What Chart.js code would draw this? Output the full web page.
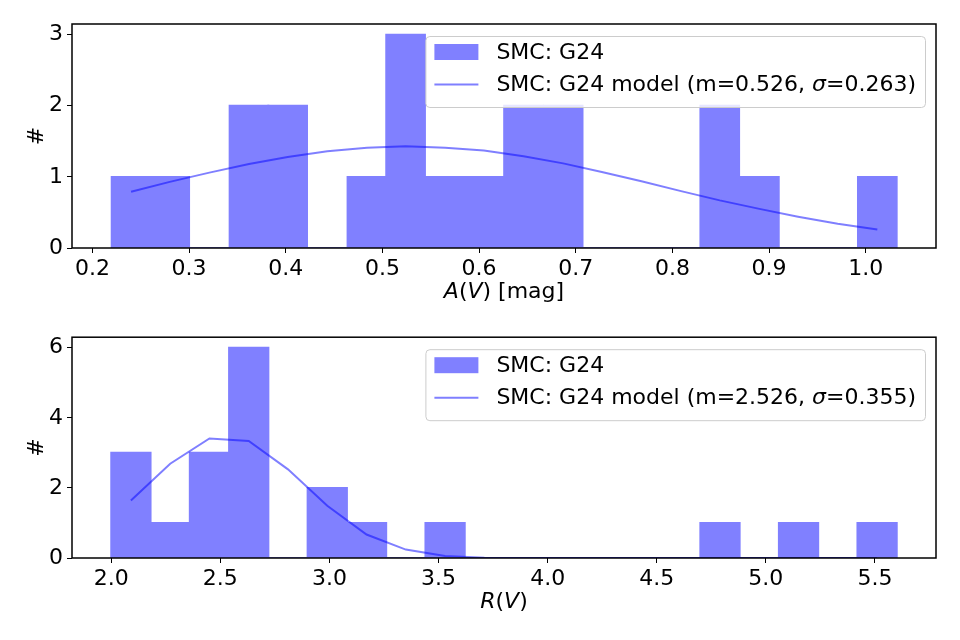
<!DOCTYPE html>
<html>
<head>
<meta charset="utf-8">
<script src="https://cdn.jsdelivr.net/npm/chart.js@4"></script>
<style>
  body { margin: 0; background: #fff; }
  .box { position: absolute; left: 0; width: 960px; height: 320px; }
</style>
</head>
<body>
<div class="box" style="top:0"><canvas id="avChart" width="960" height="320"></canvas></div>
<div class="box" style="top:320px"><canvas id="rvChart" width="960" height="320"></canvas></div>
<script>
// A(V) histogram (bin centres, counts) and model curve
var avCenters = [0.240, 0.280, 0.321, 0.362, 0.402, 0.443, 0.484, 0.524, 0.565, 0.605,
                 0.646, 0.687, 0.727, 0.768, 0.809, 0.849, 0.890, 0.930, 0.971, 1.012];
var avCounts = [1, 1, 0, 2, 2, 0, 1, 3, 1, 1, 2, 2, 0, 0, 0, 2, 1, 0, 0, 1];
var avModel = [0.79, 0.93, 1.06, 1.18, 1.28, 1.36, 1.41, 1.43, 1.41, 1.37,
               1.29, 1.19, 1.07, 0.94, 0.80, 0.67, 0.55, 0.44, 0.34, 0.26];
var avTicks = [0.2, 0.3, 0.4, 0.5, 0.6, 0.7, 0.8, 0.9, 1.0];

// R(V) histogram and model curve
var rvCenters = [2.09, 2.27, 2.45, 2.63, 2.81, 2.99, 3.17, 3.35, 3.53, 3.71,
                 3.89, 4.07, 4.25, 4.43, 4.61, 4.79, 4.97, 5.15, 5.33, 5.51];
var rvCounts = [3, 1, 3, 6, 0, 2, 1, 0, 1, 0, 0, 0, 0, 0, 0, 1, 0, 1, 0, 1];
var rvModel = [1.64, 2.69, 3.41, 3.34, 2.53, 1.49, 0.67, 0.24, 0.06, 0.01,
               0, 0, 0, 0, 0, 0, 0, 0, 0, 0];
var rvTicks = [2.0, 2.5, 3.0, 3.5, 4.0, 4.5, 5.0, 5.5];

var FONT = '"DejaVu Sans", sans-serif';
var FS = 22;

function pairs(xs, ys) {
    return xs.map(function(x, i) { return {x: x, y: ys[i]}; });
}

// draw a run of text pieces, some in italics
function drawPieces(ctx, pieces, x, y, size, align) {
    var total = 0;
    pieces.forEach(function(p) {
        ctx.font = (p.it ? 'italic ' : '') + size + 'px ' + FONT;
        p.w = ctx.measureText(p.t).width;
        total += p.w;
    });
    var cx = align === 'center' ? x - total / 2 : x;
    ctx.textAlign = 'left';
    ctx.textBaseline = 'middle';
    ctx.fillStyle = '#000';
    pieces.forEach(function(p) {
        ctx.font = (p.it ? 'italic ' : '') + size + 'px ' + FONT;
        ctx.fillText(p.t, cx, y);
        cx += p.w;
    });
    return total;
}

var decor = {
    id: 'decor',
    afterDatasetsDraw: function(chart, args, opts) {
        var ctx = chart.ctx, a = chart.chartArea;
        ctx.save();
        ctx.strokeStyle = '#000';
        ctx.lineWidth = 1.5;
        ctx.strokeRect(a.left, a.top, a.right - a.left, a.bottom - a.top);
        ctx.restore();
    },
    afterDraw: function(chart, args, opts) {
        var ctx = chart.ctx, a = chart.chartArea;
        ctx.save();
        // x axis title
        drawPieces(ctx, opts.xTitle, (a.left + a.right) / 2, a.bottom + 44, FS, 'center');

        // legend
        var widths = opts.legend.map(function(item) {
            var w = 0;
            item.label.forEach(function(p) {
                ctx.font = (p.it ? 'italic ' : '') + FS + 'px ' + FONT;
                w += ctx.measureText(p.t).width;
            });
            return w;
        });
        var textW = Math.max.apply(null, widths);
        var bw = 9 + 44 + 18 + textW + 9;
        var bh = 71;
        var bx = a.right - 11 - bw;
        var by = a.top + 12;
        ctx.beginPath();
        ctx.roundRect(bx + 0.5, by + 0.5, bw, bh, 4);
        ctx.fillStyle = 'rgba(255,255,255,0.8)';
        ctx.fill();
        ctx.strokeStyle = '#cccccc';
        ctx.lineWidth = 1;
        ctx.stroke();
        opts.legend.forEach(function(item, i) {
            var cy = by + 16 + i * 32.5;
            if (item.kind === 'bar') {
                ctx.fillStyle = '#8080ff';
                ctx.fillRect(bx + 9, cy - 8, 44, 16);
            } else {
                ctx.beginPath();
                ctx.moveTo(bx + 9, cy);
                ctx.lineTo(bx + 53, cy);
                ctx.strokeStyle = 'rgba(0,0,255,0.5)';
                ctx.lineWidth = 2;
                ctx.stroke();
            }
            drawPieces(ctx, item.label, bx + 71, cy + 1, FS, 'left');
        });
        ctx.restore();
    }
};

function makeChart(id, cfg) {
    var ctx = document.getElementById(id).getContext('2d');
    return new Chart(ctx, {
        type: 'bar',
        data: {
            datasets: [{
                type: 'bar',
                label: 'SMC: G24',
                data: pairs(cfg.centers, cfg.counts),
                backgroundColor: '#8080ff',
                borderWidth: 0,
                inflateAmount: 1,
                barPercentage: 1,
                categoryPercentage: 1,
                order: 2
            }, {
                type: 'line',
                label: cfg.modelLabel,
                data: pairs(cfg.centers, cfg.model),
                borderColor: 'rgba(0,0,255,0.5)',
                borderWidth: 2,
                pointRadius: 0,
                tension: 0,
                fill: false,
                order: 1
            }]
        },
        options: {
            responsive: false,
            animation: false,
            layout: { padding: { left: 0, right: 24, top: cfg.top, bottom: 0 } },
            plugins: {
                legend: { display: false },
                tooltip: { enabled: false },
                decor: { xTitle: cfg.xTitle, legend: cfg.legend }
            },
            scales: {
                x: {
                    type: 'linear',
                    offset: false,
                    min: cfg.xMin,
                    max: cfg.xMax,
                    afterBuildTicks: function(scale) {
                        scale.ticks = cfg.ticks.map(function(v) { return {value: v}; });
                    },
                    afterFit: function(scale) { scale.height = cfg.xHeight; },
                    border: { display: false },
                    grid: { offset: false, drawOnChartArea: false, drawTicks: true, tickLength: 5, color: '#000', lineWidth: 1 },
                    ticks: {
                        padding: 3,
                        maxRotation: 0,
                        autoSkip: false,
                        color: '#000',
                        font: { family: FONT, size: FS },
                        callback: function(v) { return Number(v).toFixed(1); }
                    }
                },
                y: {
                    min: 0,
                    max: cfg.yMax,
                    afterBuildTicks: function(scale) {
                        scale.ticks = cfg.yTicks.map(function(v) { return {value: v}; });
                    },
                    afterFit: function(scale) { scale.width = 72; },
                    border: { display: false },
                    grid: { drawOnChartArea: false, drawTicks: true, tickLength: 5, color: '#000', lineWidth: 1 },
                    ticks: {
                        padding: 4,
                        color: '#000',
                        font: { family: FONT, size: FS }
                    },
                    title: {
                        display: true,
                        text: '#',
                        color: '#000',
                        font: { family: FONT, size: FS },
                        padding: { top: 24, bottom: 0 }
                    }
                }
            }
        },
        plugins: [decor]
    });
}

makeChart('avChart', {
    centers: avCenters, counts: avCounts, model: avModel, ticks: avTicks,
    xMin: 0.1789, xMax: 1.0727, yMax: 3.15, yTicks: [0, 1, 2, 3],
    top: 24, xHeight: 72,
    modelLabel: 'SMC: G24 model (m=0.526, σ=0.263)',
    xTitle: [{t: 'A', it: true}, {t: '('}, {t: 'V', it: true}, {t: ') [mag]'}],
    legend: [
        {kind: 'bar', label: [{t: 'SMC: G24'}]},
        {kind: 'line', label: [{t: 'SMC: G24 model (m=0.526, '}, {t: 'σ', it: true}, {t: '=0.263)'}]}
    ]
});

makeChart('rvChart', {
    centers: rvCenters, counts: rvCounts, model: rvModel, ticks: rvTicks,
    xMin: 1.82, xMax: 5.78, yMax: 6.3, yTicks: [0, 2, 4, 6],
    top: 13, xHeight: 82,
    modelLabel: 'SMC: G24 model (m=2.526, σ=0.355)',
    xTitle: [{t: 'R', it: true}, {t: '('}, {t: 'V', it: true}, {t: ')'}],
    legend: [
        {kind: 'bar', label: [{t: 'SMC: G24'}]},
        {kind: 'line', label: [{t: 'SMC: G24 model (m=2.526, '}, {t: 'σ', it: true}, {t: '=0.355)'}]}
    ]
});
</script>
</body>
</html>
